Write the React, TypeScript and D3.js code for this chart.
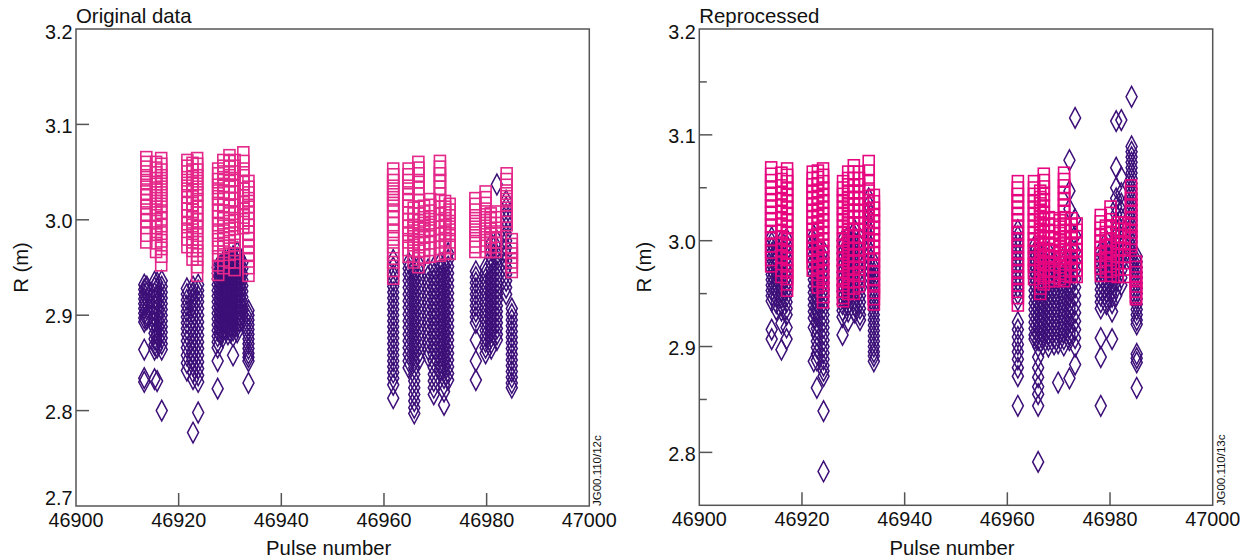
import React from 'react';
import * as d3 from 'd3';

// ---------- shared axis values ----------
const xTickValues = [46900, 46920, 46940, 46960, 46980, 47000];
const origYTickValues = [2.7, 2.8, 2.9, 3.0, 3.1, 3.2];
const repYTickValues = [2.8, 2.9, 3.0, 3.1, 3.2];
const repYMinorValues = [2.85, 2.95, 3.05, 3.15];

// ---------- Original data: magenta squares ----------
const origSqPulses = [
  46913.7, 46915.6, 46916.6, 46921.7, 46922.7, 46923.6, 46927.7, 46928.7, 46929.9, 46930.9, 46932.6, 46933.6,
  46961.8, 46964.8, 46965.8, 46966.7, 46967.8, 46969.0, 46970.9, 46971.9, 46972.8, 46977.8, 46979.8, 46980.8,
  46981.8, 46983.9, 46984.9,
];
const origSqR = [
  [3.061, 3.056, 3.051, 3.046, 3.042, 3.037, 3.032, 3.027, 3.022, 3.016, 3.010, 3.003, 2.996, 2.988, 2.981],
  [3.056, 3.050, 3.045, 3.039, 3.033, 3.027, 3.021, 3.015, 3.009, 3.003, 2.996, 2.989, 2.980, 2.971],
  [3.060, 3.054, 3.048, 3.042, 3.036, 3.030, 3.024, 3.018, 3.012, 3.005, 2.998, 2.990, 2.982, 2.974, 2.966, 2.957],
  [3.058, 3.052, 3.046, 3.040, 3.034, 3.028, 3.021, 3.014, 3.007, 3.000, 2.992, 2.984, 2.976],
  [3.055, 3.048, 3.041, 3.034, 3.027, 3.020, 3.013, 3.006, 2.998, 2.990, 2.981, 2.972, 2.963],
  [3.060, 3.054, 3.048, 3.042, 3.036, 3.030, 3.024, 3.017, 3.010, 3.003, 2.996, 2.988, 2.980, 2.972, 2.963, 2.955, 2.946],
  [3.049, 3.044, 3.038, 3.032, 3.026, 3.020, 3.013, 3.006, 2.999, 2.991, 2.983, 2.975, 2.967, 2.957, 2.947],
  [3.058, 3.052, 3.046, 3.040, 3.033, 3.026, 3.019, 3.012, 3.005, 2.997, 2.989, 2.980, 2.971, 2.962, 2.954],
  [3.063, 3.057, 3.051, 3.045, 3.039, 3.032, 3.025, 3.018, 3.010, 3.002, 2.994, 2.986, 2.977, 2.968, 2.960],
  [3.058, 3.052, 3.046, 3.039, 3.032, 3.025, 3.018, 3.011, 3.003, 2.995, 2.987, 2.978, 2.969, 2.960, 2.952],
  [3.066, 3.057, 3.049, 3.042, 3.035, 3.028, 3.021, 3.014, 3.007, 3.001, 2.996],
  [3.036, 3.030, 3.024, 3.018, 3.011, 3.004, 2.997, 2.990, 2.983, 2.976, 2.968, 2.961, 2.954, 2.946],
  [3.049, 3.043, 3.037, 3.031, 3.025, 3.019, 3.013, 3.006, 2.999, 2.992, 2.984, 2.976, 2.968, 2.960, 2.951, 2.943],
  [3.049, 3.043, 3.037, 3.031, 3.024, 3.017, 3.010, 3.003, 2.996, 2.989, 2.981, 2.973, 2.966],
  [3.008, 3.002, 2.996, 2.990, 2.984, 2.978, 2.972, 2.966, 2.960],
  [3.056, 3.050, 3.044, 3.037, 3.030, 3.023, 3.016, 3.009, 3.002, 2.995, 2.987, 2.979, 2.971, 2.963, 2.955],
  [3.010, 3.004, 2.998, 2.992, 2.986, 2.979, 2.972, 2.965],
  [3.017, 3.011, 3.005, 2.999, 2.993, 2.987, 2.980, 2.973, 2.966],
  [3.057, 3.051, 3.044, 3.037, 3.030, 3.023, 3.016, 3.009, 3.002, 2.995, 2.988, 2.981, 2.974, 2.967],
  [3.015, 3.009, 3.003, 2.997, 2.990, 2.983, 2.976, 2.969],
  [3.012, 3.006, 3.000, 2.994, 2.988, 2.981, 2.975, 2.969],
  [3.018, 3.012, 3.006, 3.000, 2.994, 2.988, 2.982, 2.976, 2.971],
  [3.025, 3.019, 3.013, 3.007, 3.001, 2.995, 2.989, 2.983, 2.977, 2.971],
  [3.002, 2.997, 2.992, 2.986, 2.981, 2.976, 2.971],
  [3.004, 2.998, 2.992, 2.987, 2.981, 2.976, 2.971],
  [3.044, 3.038, 3.032, 3.026, 3.020, 3.014, 3.008, 3.003, 2.999],
  [2.975, 2.970, 2.965, 2.960, 2.955, 2.950],
];

// ---------- Original data: purple diamonds ----------
const origDiPulses = [
  46913.3, 46913.8, 46915.3, 46915.8, 46916.7, 46921.6, 46922.8, 46923.8, 46927.6, 46928.1, 46928.6, 46929.1,
  46929.6, 46930.1, 46930.6, 46931.4, 46931.9, 46932.4, 46933.6,
  46961.8, 46964.8, 46965.9, 46966.9, 46968.6, 46969.7, 46970.9, 46971.7, 46972.5, 46977.9, 46979.8, 46980.9,
  46982.0, 46983.8, 46984.9,
];
const origDiR = [
  [2.932, 2.927, 2.922, 2.917, 2.912, 2.907, 2.902, 2.897, 2.893, 2.864, 2.834, 2.830],
  [2.930, 2.924, 2.918, 2.912, 2.906, 2.900, 2.896],
  [2.935, 2.929, 2.923, 2.917, 2.911, 2.905, 2.899, 2.893, 2.887, 2.881, 2.875, 2.869, 2.864, 2.833],
  [2.934, 2.928, 2.921, 2.914, 2.907, 2.900, 2.893, 2.886, 2.879, 2.872, 2.866, 2.831],
  [2.936, 2.930, 2.924, 2.918, 2.912, 2.906, 2.900, 2.894, 2.888, 2.882, 2.876, 2.870, 2.864, 2.800],
  [2.928, 2.922, 2.916, 2.910, 2.904, 2.898, 2.892, 2.886, 2.880, 2.873, 2.866, 2.858, 2.850, 2.842],
  [2.930, 2.924, 2.917, 2.910, 2.903, 2.896, 2.889, 2.882, 2.875, 2.868, 2.861, 2.854, 2.847, 2.840, 2.833, 2.777],
  [2.932, 2.926, 2.920, 2.914, 2.907, 2.900, 2.893, 2.886, 2.879, 2.872, 2.865, 2.858, 2.851, 2.844, 2.837, 2.830, 2.798],
  [2.950, 2.944, 2.938, 2.932, 2.926, 2.920, 2.914, 2.908, 2.902, 2.896, 2.890, 2.884, 2.878, 2.872, 2.866, 2.852, 2.823],
  [2.952, 2.946, 2.940, 2.934, 2.928, 2.922, 2.916, 2.910, 2.904, 2.898, 2.892, 2.886, 2.880],
  [2.955, 2.949, 2.943, 2.937, 2.931, 2.925, 2.919, 2.913, 2.907, 2.901, 2.895, 2.889, 2.883, 2.877],
  [2.957, 2.951, 2.945, 2.939, 2.933, 2.927, 2.921, 2.915, 2.909, 2.903, 2.897, 2.891, 2.885],
  [2.958, 2.952, 2.946, 2.940, 2.934, 2.928, 2.922, 2.916, 2.910, 2.904, 2.898, 2.892, 2.886, 2.880],
  [2.960, 2.954, 2.948, 2.942, 2.936, 2.930, 2.924, 2.918, 2.912, 2.906, 2.900, 2.894, 2.888, 2.882],
  [2.962, 2.956, 2.950, 2.944, 2.938, 2.932, 2.926, 2.920, 2.914, 2.908, 2.902, 2.896, 2.890, 2.884, 2.878, 2.858],
  [2.966, 2.960, 2.954, 2.948, 2.942, 2.936, 2.930, 2.924, 2.918, 2.912, 2.906, 2.900, 2.894, 2.888, 2.882],
  [2.960, 2.954, 2.948, 2.942, 2.936, 2.930, 2.924, 2.918, 2.912, 2.906, 2.900, 2.894],
  [2.955, 2.949, 2.943, 2.937, 2.931, 2.925, 2.919, 2.913, 2.907, 2.901, 2.895],
  [2.905, 2.900, 2.895, 2.890, 2.885, 2.880, 2.875, 2.870, 2.865, 2.860, 2.856, 2.852, 2.829],
  [2.958, 2.950, 2.942, 2.936, 2.930, 2.924, 2.918, 2.912, 2.906, 2.900, 2.894, 2.888, 2.882, 2.876, 2.870, 2.864, 2.858, 2.852, 2.846, 2.840, 2.834, 2.827, 2.813],
  [2.955, 2.949, 2.943, 2.936, 2.929, 2.922, 2.915, 2.908, 2.901, 2.894, 2.887, 2.880, 2.873, 2.866, 2.859, 2.852, 2.845],
  [2.950, 2.943, 2.936, 2.929, 2.922, 2.915, 2.908, 2.901, 2.894, 2.887, 2.880, 2.873, 2.866, 2.859, 2.852, 2.845, 2.838, 2.831, 2.824, 2.817, 2.810, 2.803, 2.797],
  [2.952, 2.945, 2.938, 2.931, 2.924, 2.917, 2.910, 2.903, 2.896, 2.889, 2.882, 2.875, 2.868, 2.861, 2.854],
  [2.948, 2.941, 2.934, 2.927, 2.920, 2.913, 2.906, 2.899, 2.892, 2.885, 2.878, 2.871, 2.864, 2.857],
  [2.950, 2.943, 2.936, 2.929, 2.922, 2.915, 2.908, 2.901, 2.894, 2.887, 2.880, 2.873, 2.866, 2.859, 2.852, 2.845, 2.838, 2.831, 2.824, 2.817],
  [2.955, 2.948, 2.941, 2.934, 2.927, 2.920, 2.913, 2.906, 2.899, 2.892, 2.885, 2.878, 2.871, 2.864, 2.857, 2.850, 2.843],
  [2.953, 2.946, 2.939, 2.932, 2.925, 2.918, 2.911, 2.904, 2.897, 2.890, 2.883, 2.876, 2.869, 2.862, 2.855, 2.848, 2.841, 2.834, 2.827, 2.820, 2.806],
  [2.965, 2.958, 2.951, 2.944, 2.937, 2.930, 2.923, 2.916, 2.909, 2.902, 2.895, 2.888, 2.881, 2.874, 2.867, 2.860, 2.853, 2.846, 2.839, 2.832],
  [2.946, 2.940, 2.934, 2.928, 2.922, 2.916, 2.910, 2.904, 2.898, 2.892, 2.874, 2.852, 2.832],
  [2.950, 2.944, 2.938, 2.932, 2.926, 2.920, 2.914, 2.908, 2.902, 2.896, 2.890, 2.884, 2.878, 2.872, 2.866, 2.860],
  [2.975, 2.968, 2.961, 2.955, 2.949, 2.943, 2.937, 2.931, 2.925, 2.919, 2.913, 2.907, 2.901, 2.895, 2.889, 2.883, 2.877, 2.871, 2.865],
  [3.037, 2.978, 2.970, 2.963, 2.958, 2.952, 2.946, 2.940, 2.934, 2.928, 2.922, 2.916, 2.910, 2.904, 2.898, 2.892, 2.886, 2.880, 2.874],
  [3.020, 3.013, 3.006, 2.999, 2.992, 2.985, 2.978, 2.971, 2.964, 2.957, 2.950, 2.943, 2.936, 2.929, 2.922],
  [2.907, 2.901, 2.895, 2.889, 2.883, 2.877, 2.871, 2.865, 2.859, 2.853, 2.847, 2.841, 2.835, 2.829, 2.824],
];

// ---------- Reprocessed: magenta squares ----------
const repSqPulses = [
  46914.0, 46916.0, 46917.1, 46922.1, 46923.1, 46924.1, 46928.0, 46929.0, 46930.1, 46931.1, 46933.0, 46934.0,
  46962.05, 46965.2, 46966.4, 46967.1, 46968.1, 46969.2, 46970.2, 46971.05, 46972.5, 46973.5, 46978.2, 46979.2,
  46980.1, 46981.5, 46982.8, 46984.1, 46985.05,
];
const repSqR = [
  [3.065, 3.059, 3.053, 3.047, 3.041, 3.035, 3.029, 3.023, 3.017, 3.011, 3.005, 2.999, 2.993, 2.986, 2.980],
  [3.060, 3.054, 3.048, 3.042, 3.036, 3.030, 3.024, 3.018, 3.012, 3.006, 3.000, 2.994, 2.988, 2.982, 2.976, 2.970],
  [3.064, 3.058, 3.052, 3.046, 3.040, 3.034, 3.028, 3.022, 3.016, 3.010, 3.004, 2.998, 2.992, 2.986, 2.980, 2.974, 2.968, 2.963, 2.957],
  [3.061, 3.055, 3.049, 3.043, 3.037, 3.031, 3.025, 3.019, 3.013, 3.007, 3.001, 2.995, 2.989, 2.983, 2.976],
  [3.062, 3.056, 3.050, 3.044, 3.038, 3.032, 3.026, 3.020, 3.014, 3.008, 3.002, 2.996, 2.990, 2.984, 2.978, 2.972, 2.966, 2.960],
  [3.064, 3.058, 3.052, 3.046, 3.040, 3.034, 3.028, 3.022, 3.016, 3.010, 3.004, 2.998, 2.992, 2.986, 2.980, 2.974, 2.968, 2.962, 2.956, 2.951, 2.946],
  [3.052, 3.046, 3.040, 3.034, 3.028, 3.022, 3.016, 3.010, 3.004, 2.998, 2.992, 2.986, 2.980, 2.974, 2.968, 2.962, 2.956, 2.950, 2.947],
  [3.061, 3.055, 3.049, 3.043, 3.037, 3.031, 3.025, 3.019, 3.013, 3.007, 3.001, 2.995, 2.989, 2.983, 2.977, 2.971, 2.965, 2.959, 2.954],
  [3.067, 3.061, 3.055, 3.049, 3.043, 3.037, 3.031, 3.025, 3.019, 3.013, 3.007, 3.001, 2.995, 2.989, 2.983, 2.977, 2.971, 2.965, 2.959, 2.954],
  [3.061, 3.055, 3.049, 3.043, 3.037, 3.031, 3.025, 3.019, 3.013, 3.007, 3.001, 2.995, 2.989, 2.983, 2.977, 2.971, 2.966, 2.961],
  [3.071, 3.062, 3.053, 3.045, 3.038, 3.031, 3.024, 3.017, 3.010, 3.003, 2.997, 2.992],
  [3.039, 3.033, 3.027, 3.021, 3.015, 3.009, 3.003, 2.997, 2.991, 2.985, 2.979, 2.973, 2.967, 2.961, 2.955, 2.949, 2.944],
  [3.052, 3.046, 3.040, 3.034, 3.028, 3.022, 3.016, 3.010, 3.004, 2.998, 2.992, 2.986, 2.980, 2.974, 2.968, 2.962, 2.956, 2.950, 2.943],
  [3.052, 3.046, 3.040, 3.034, 3.028, 3.022, 3.016, 3.010, 3.004, 2.998, 2.992, 2.986, 2.980, 2.974, 2.968],
  [3.043, 3.037, 3.031, 3.025, 3.019, 3.013, 3.007, 3.001, 2.995, 2.989, 2.983, 2.977, 2.971, 2.965, 2.959, 2.954],
  [3.059, 3.053, 3.047, 3.041, 3.035, 3.029, 3.023, 3.017, 3.011, 3.005, 2.999, 2.993, 2.987, 2.981, 2.975, 2.969, 2.963],
  [3.018, 3.012, 3.006, 3.000, 2.994, 2.988, 2.982, 2.976, 2.971, 2.966],
  [3.017, 3.011, 3.005, 2.999, 2.993, 2.987, 2.981, 2.975, 2.970, 2.966],
  [3.015, 3.009, 3.003, 2.997, 2.991, 2.985, 2.979, 2.973, 2.968],
  [3.060, 3.054, 3.048, 3.042, 3.036, 3.030, 3.024, 3.018, 3.012, 3.006, 3.000, 2.994, 2.988, 2.982, 2.976, 2.971, 2.966],
  [3.017, 3.011, 3.005, 2.999, 2.993, 2.987, 2.981, 2.975, 2.970],
  [3.012, 3.006, 3.000, 2.994, 2.988, 2.982, 2.976, 2.970],
  [3.020, 3.014, 3.008, 3.002, 2.996, 2.990, 2.984, 2.978, 2.971],
  [3.010, 3.004, 2.998, 2.992, 2.986, 2.980, 2.975],
  [3.028, 3.022, 3.016, 3.010, 3.004, 2.998, 2.992, 2.986, 2.980, 2.975, 2.971],
  [3.013, 3.007, 3.001, 2.995, 2.989, 2.983, 2.977, 2.970],
  [3.013, 3.007, 3.001, 2.995, 2.989, 2.983, 2.977, 2.970],
  [3.048, 3.042, 3.036, 3.030, 3.024, 3.018, 3.012, 3.006, 3.001, 2.998],
  [2.976, 2.971, 2.966, 2.961, 2.956, 2.951, 2.949],
];

// ---------- Reprocessed: purple diamonds ----------
const repDiPulses = [
  46914.1, 46915.0, 46916.0, 46917.0, 46922.3, 46922.9, 46924.2, 46927.9, 46929.0, 46930.3, 46931.3, 46933.0,
  46934.0,
  46962.05, 46965.3, 46966.0, 46966.9, 46968.0, 46969.1, 46969.9, 46971.0, 46972.1, 46973.2, 46978.2, 46979.3,
  46980.4, 46981.2, 46982.2, 46984.2, 46985.2,
];
const repDiR = [
  [3.003, 2.998, 2.993, 2.988, 2.983, 2.978, 2.973, 2.968, 2.963, 2.958, 2.953, 2.948, 2.943, 2.916, 2.907],
  [2.995, 2.989, 2.983, 2.977, 2.971, 2.965, 2.959, 2.953, 2.947, 2.941, 2.935],
  [3.000, 2.994, 2.988, 2.982, 2.976, 2.970, 2.964, 2.958, 2.952, 2.946, 2.940, 2.934, 2.922, 2.897],
  [3.002, 2.996, 2.990, 2.984, 2.978, 2.972, 2.966, 2.960, 2.954, 2.948, 2.942, 2.936, 2.930, 2.918, 2.907],
  [3.005, 2.999, 2.993, 2.987, 2.981, 2.975, 2.969, 2.963, 2.957, 2.951, 2.945, 2.939, 2.933, 2.927, 2.918, 2.886],
  [2.995, 2.989, 2.983, 2.977, 2.971, 2.965, 2.959, 2.953, 2.947, 2.941, 2.935, 2.929, 2.923, 2.917, 2.911, 2.905, 2.899, 2.893, 2.887, 2.861],
  [2.990, 2.984, 2.978, 2.972, 2.966, 2.960, 2.954, 2.948, 2.942, 2.936, 2.930, 2.924, 2.918, 2.912, 2.906, 2.900, 2.894, 2.888, 2.882, 2.877, 2.872, 2.839, 2.782],
  [3.000, 2.994, 2.988, 2.982, 2.976, 2.970, 2.964, 2.958, 2.952, 2.946, 2.940, 2.934, 2.928, 2.911],
  [3.005, 2.999, 2.993, 2.987, 2.981, 2.975, 2.969, 2.963, 2.957, 2.951, 2.945, 2.939, 2.933, 2.924],
  [3.010, 3.004, 2.998, 2.992, 2.986, 2.980, 2.974, 2.968, 2.962, 2.956, 2.950, 2.944, 2.938, 2.932],
  [3.002, 2.996, 2.990, 2.984, 2.978, 2.972, 2.966, 2.960, 2.954, 2.948, 2.942, 2.936, 2.930, 2.925],
  [3.040, 3.034, 3.028, 3.022, 3.016, 3.010, 3.004, 2.998, 2.992, 2.986, 2.980, 2.974, 2.968, 2.962],
  [2.980, 2.975, 2.970, 2.965, 2.960, 2.955, 2.950, 2.945, 2.940, 2.935, 2.930, 2.925, 2.920, 2.915, 2.910, 2.905, 2.900, 2.895, 2.891, 2.886],
  [3.010, 3.004, 2.998, 2.992, 2.986, 2.980, 2.974, 2.968, 2.962, 2.956, 2.950, 2.944, 2.923, 2.916, 2.909, 2.902, 2.895, 2.888, 2.880, 2.872, 2.844],
  [2.995, 2.989, 2.983, 2.977, 2.971, 2.965, 2.959, 2.953, 2.947, 2.941, 2.935, 2.929, 2.923, 2.917, 2.911, 2.907],
  [2.990, 2.984, 2.978, 2.972, 2.966, 2.960, 2.954, 2.948, 2.942, 2.936, 2.930, 2.924, 2.918, 2.912, 2.906, 2.900, 2.890, 2.880, 2.871, 2.862, 2.855, 2.844, 2.791],
  [2.985, 2.979, 2.973, 2.967, 2.961, 2.955, 2.949, 2.943, 2.937, 2.931, 2.925, 2.919, 2.913, 2.907, 2.901],
  [2.990, 2.984, 2.978, 2.972, 2.966, 2.960, 2.954, 2.948, 2.942, 2.936, 2.930, 2.924, 2.918, 2.912, 2.906, 2.900],
  [2.980, 2.974, 2.968, 2.962, 2.956, 2.950, 2.944, 2.938, 2.932, 2.926, 2.920, 2.914, 2.908, 2.902],
  [2.975, 2.969, 2.963, 2.957, 2.951, 2.945, 2.939, 2.933, 2.927, 2.921, 2.915, 2.909, 2.903, 2.866],
  [2.985, 2.979, 2.973, 2.967, 2.961, 2.955, 2.949, 2.943, 2.937, 2.931, 2.925, 2.919, 2.913, 2.907, 2.901],
  [3.076, 3.047, 3.030, 2.990, 2.984, 2.978, 2.972, 2.966, 2.960, 2.954, 2.948, 2.942, 2.936, 2.930, 2.924, 2.918, 2.912, 2.906, 2.870],
  [3.116, 3.020, 3.005, 2.990, 2.980, 2.972, 2.964, 2.956, 2.948, 2.940, 2.932, 2.924, 2.916, 2.908, 2.900, 2.883],
  [2.990, 2.984, 2.978, 2.972, 2.966, 2.960, 2.954, 2.948, 2.942, 2.936, 2.908, 2.890, 2.844],
  [3.000, 2.994, 2.988, 2.982, 2.976, 2.970, 2.964, 2.958, 2.952, 2.946, 2.940],
  [2.995, 2.989, 2.983, 2.977, 2.971, 2.965, 2.959, 2.953, 2.947, 2.941, 2.933, 2.907],
  [3.113, 3.069, 3.050, 3.040, 3.032, 3.025, 3.018, 3.011, 3.004, 2.997, 2.990, 2.983, 2.976, 2.969, 2.962, 2.955, 2.948],
  [3.114, 3.060, 3.045, 3.035, 3.028, 3.021, 3.014, 3.007, 3.000, 2.993, 2.986, 2.979, 2.972, 2.965, 2.958],
  [3.136, 3.089, 3.084, 3.079, 3.074, 3.069, 3.064, 3.059, 3.054, 3.049, 3.044, 3.039, 3.034, 3.029, 3.024, 3.019, 3.014, 3.009, 3.004, 2.999, 2.994, 2.989, 2.984, 2.979],
  [2.985, 2.980, 2.975, 2.970, 2.965, 2.960, 2.955, 2.950, 2.945, 2.940, 2.935, 2.930, 2.925, 2.921, 2.893, 2.889, 2.885, 2.861],
];

const FONT = "'Liberation Sans', Arial, Helvetica, sans-serif";
const FRAME = '#555';

type PanelProps = {
  left: number;
  right: number;
  top: number;
  bottom: number;
  yDomain: [number, number];
  yTicks: number[];
  yMinor: number[];
  title: string;
  code: string;
  rLabelX: number;
  sqPulses: number[];
  sqR: number[][];
  diPulses: number[];
  diR: number[][];
  sqColor: string;
  diColor: string;
};

function flatten(pulses: number[], values: number[][]) {
  const out: { p: number; r: number }[] = [];
  pulses.forEach((p, i) => values[i].forEach((r) => out.push({ p, r })));
  return out;
}

function Panel(props: PanelProps) {
  const x = d3.scaleLinear().domain([46900, 47000]).range([props.left, props.right]);
  const y = d3.scaleLinear().domain(props.yDomain).range([props.bottom, props.top]);
  const squares = flatten(props.sqPulses, props.sqR);
  const diamonds = flatten(props.diPulses, props.diR);
  const hw = 5.5;
  const hh = 10.3;
  const majorLen = 13;
  const minorLen = 7.5;
  const fmtY = d3.format('.1f');
  const innerX = xTickValues.filter((v) => v > 46900 && v < 47000);
  const innerY = props.yTicks.filter((v) => v > props.yDomain[0] + 1e-9 && v < props.yDomain[1] - 1e-9);
  const midX = (props.left + props.right) / 2;
  const midY = (props.top + props.bottom) / 2;
  const labelY = (v: number) => {
    const py = y(v);
    if (Math.abs(v - props.yDomain[0]) < 1e-9) return { y: py - 1, dy: '0' };
    if (Math.abs(v - props.yDomain[1]) < 1e-9) return { y: py + 3, dy: '0.36em' };
    return { y: py + 1, dy: '0.36em' };
  };
  return (
    <g>
      {/* diamonds */}
      <g fill="none" stroke={props.diColor} strokeWidth={1.5}>
        {diamonds.map((d, i) => {
          const cx = x(d.p);
          const cy = y(d.r);
          return (
            <path
              key={'d' + i}
              d={`M${cx},${cy - hh}L${cx + hw},${cy}L${cx},${cy + hh}L${cx - hw},${cy}Z`}
            />
          );
        })}
      </g>
      {/* squares */}
      <g fill="none" stroke={props.sqColor} strokeWidth={1.6}>
        {squares.map((d, i) => (
          <rect key={'s' + i} x={x(d.p) - hw} y={y(d.r) - 10} width={hw * 2} height={20} />
        ))}
      </g>
      {/* frame */}
      <rect
        x={props.left}
        y={props.top}
        width={props.right - props.left}
        height={props.bottom - props.top}
        fill="none"
        stroke={FRAME}
        strokeWidth={1.5}
      />
      {/* ticks */}
      <g stroke={FRAME} strokeWidth={1.5}>
        {innerY.map((v) => (
          <line key={'yt' + v} x1={props.left} x2={props.left + majorLen} y1={y(v)} y2={y(v)} />
        ))}
        {props.yMinor.map((v) => (
          <line key={'ym' + v} x1={props.left} x2={props.left + minorLen} y1={y(v)} y2={y(v)} />
        ))}
        {innerX.map((v) => (
          <line key={'xt' + v} x1={x(v)} x2={x(v)} y1={props.bottom} y2={props.bottom - majorLen} />
        ))}
      </g>
      {/* tick labels */}
      <g fontFamily={FONT} fontSize={19.8} fill="#111">
        {props.yTicks.map((v) => {
          const ly = labelY(v);
          return (
            <text key={'yl' + v} x={props.left - 3.5} y={ly.y} dy={ly.dy} textAnchor="end">
              {fmtY(v)}
            </text>
          );
        })}
        {xTickValues.map((v) => (
          <text key={'xl' + v} x={x(v)} y={props.bottom + 20.5} textAnchor="middle">
            {String(v)}
          </text>
        ))}
      </g>
      {/* axis titles */}
      <text x={props.left} y={23} fontFamily={FONT} fontSize={20.4} fill="#111">
        {props.title}
      </text>
      <text x={midX - 4} y={555} fontFamily={FONT} fontSize={20.3} fill="#111" textAnchor="middle">
        Pulse number
      </text>
      <text
        transform={`translate(${props.rLabelX},${midY}) rotate(-90)`}
        fontFamily={FONT}
        fontSize={20.3}
        fill="#111"
        textAnchor="middle"
      >
        R (m)
      </text>
      <text
        transform={`translate(${props.right + 12},${props.bottom}) rotate(-90)`}
        fontFamily={FONT}
        fontSize={11.5}
        fill="#111"
      >
        {props.code}
      </text>
    </g>
  );
}

export default function App() {
  return (
    <svg
      width={1253}
      height={560}
      viewBox="0 0 1253 560"
      style={{ position: 'absolute', left: 0, top: 0, background: '#fff' }}
    >
      <rect width={1253} height={560} fill="#fff" />
      <Panel
        left={76}
        right={589.3}
        top={29}
        bottom={506}
        yDomain={[2.7, 3.2]}
        yTicks={origYTickValues}
        yMinor={[]}
        title="Original data"
        code="JG00.110/12c"
        rLabelX={28}
        sqPulses={origSqPulses}
        sqR={origSqR}
        diPulses={origDiPulses}
        diR={origDiR}
        sqColor="#e4288a"
        diColor="#3c0f78"
      />
      <Panel
        left={699.3}
        right={1212.7}
        top={29}
        bottom={505.3}
        yDomain={[2.75, 3.2]}
        yTicks={repYTickValues}
        yMinor={repYMinorValues}
        title="Reprocessed"
        code="JG00.110/13c"
        rLabelX={651}
        sqPulses={repSqPulses}
        sqR={repSqR}
        diPulses={repDiPulses}
        diR={repDiR}
        sqColor="#e6067f"
        diColor="#3c0f78"
      />
    </svg>
  );
}
